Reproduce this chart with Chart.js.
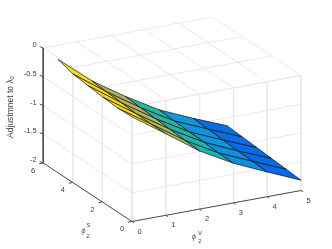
<!DOCTYPE html>
<html><head><meta charset="utf-8">
<style>html,body{margin:0;padding:0;background:#fff}canvas{display:block}</style>
<script src="https://cdn.jsdelivr.net/npm/chart.js@4"></script>
</head><body><canvas id="c" width="332" height="249"></canvas>
<script>
const phiV = [0,1,2,3,4,5];
const phiS = [0,1,2,3,4,5];
// rows: phiS = 0..5, columns: phiV = 0..5
const z_S0 = [-0.18,-0.58,-0.99,-1.31,-1.57,-1.82];
const z_S1 = [-0.19,-0.58,-0.97,-1.30,-1.55,-1.80];
const z_S2 = [-0.17,-0.57,-0.95,-1.28,-1.54,-1.78];
const z_S3 = [-0.14,-0.55,-0.93,-1.27,-1.52,-1.76];
const z_S4 = [-0.11,-0.53,-0.91,-1.25,-1.50,-1.74];
const z_S5 = [-0.03,-0.51,-0.89,-1.23,-1.485,-1.72];
const surface = [z_S0,z_S1,z_S2,z_S3,z_S4,z_S5];
const vTicks = [0,1,2,3,4,5];
const sTicks = [0,2,4,6];
const zTicks = [0,-0.5,-1,-1.5,-2];
const zLabels = ['0','-0.5','-1','-1.5','-2'];

const V_MAX=5,S_MAX=6,Z_MIN=-2,Z_MAX=0;
function P(v,s,z){return {x:132+33.8*v-14.8*s, y:221.5-6.2*v-9.75*s-57.5*(z+2)};}

const stops=[[0,8,100,235],[0.14,8,104,232],[0.19,6,112,228],[0.29,12,146,222],[0.33,15,155,218],[0.46,30,178,180],[0.52,40,183,160],[0.62,110,192,120],[0.69,168,188,96],[0.73,184,172,96],[0.8,232,190,55],[0.86,250,215,30],[1,250,228,25]];
function col(z){const t=Math.max(0,Math.min(1,(z+1.82)/1.79));
 for(let i=1;i<stops.length;i++){if(t<=stops[i][0]){const a=stops[i-1],b=stops[i],f=(t-a[0])/(b[0]-a[0]);
  return `rgb(${[1,2,3].map(k=>Math.round(a[k]+(b[k]-a[k])*f)).join(',')})`;}}
 return 'rgb(250,228,25)';}

const ds=[];
function line(pts,color,w){ds.push({data:pts,showLine:true,pointRadius:0,borderColor:color,borderWidth:w,fill:false,tension:0,clip:false});}
const GRID='#e8e8e8',AXIS='#4d4d4d';
// top plane
vTicks.forEach(v=>line([P(v,0,0),P(v,S_MAX,0)],GRID,1));
sTicks.forEach(s=>line([P(0,s,0),P(V_MAX,s,0)],GRID,1));
// wall phiS=0
vTicks.forEach(v=>line([P(v,0,Z_MAX),P(v,0,Z_MIN)],GRID,1));
zTicks.forEach(z=>line([P(0,0,z),P(V_MAX,0,z)],GRID,1));
// wall phiV=0
sTicks.forEach(s=>line([P(0,s,Z_MAX),P(0,s,Z_MIN)],GRID,1));
zTicks.forEach(z=>line([P(0,0,z),P(0,S_MAX,z)],GRID,1));
// axes
line([P(0,S_MAX,Z_MAX),P(0,S_MAX,Z_MIN)],AXIS,1);
line([P(0,S_MAX,Z_MIN),P(0,0,Z_MIN)],AXIS,1);
line([P(0,0,Z_MIN),P(V_MAX,0,Z_MIN)],AXIS,1);
zTicks.forEach(z=>{const a=P(0,S_MAX,z);line([a,{x:a.x-3.5,y:a.y-1.5}],AXIS,1);});
sTicks.forEach(s=>{const a=P(0,s,Z_MIN);line([a,{x:a.x-4,y:a.y+0.7}],AXIS,1);});
vTicks.forEach(v=>{const a=P(v,0,Z_MIN);line([a,{x:a.x+2,y:a.y+1.5}],AXIS,1);});
// surface, far quads first
const quads=[];
for(let j=0;j<phiS.length-1;j++)for(let i=0;i<phiV.length-1;i++)quads.push([i,j]);
quads.sort((a,b)=>(a[0]+a[1])-(b[0]+b[1]));
quads.forEach(([i,j])=>{
 const p=[[i,j],[i+1,j],[i+1,j+1],[i,j+1],[i,j]].map(([a,b])=>P(phiV[a],phiS[b],surface[b][a]));
 ds.push({data:p,showLine:true,pointRadius:0,borderColor:'#111',borderWidth:0.7,backgroundColor:col(surface[j][i]),fill:'shape',tension:0,clip:false});
});

const labels={id:'labels',afterDraw(c){
 const g=c.ctx,sx=c.scales.x,sy=c.scales.y;
 const T=(t,x,y,o={})=>{g.save();g.translate(sx.getPixelForValue(x),sy.getPixelForValue(y));g.rotate(o.r||0);
  g.font=(o.it?'italic ':'')+(o.s||7.5)+'px "Liberation Sans"';g.fillStyle=o.c||'#404040';g.textAlign=o.a||'center';g.textBaseline='middle';g.fillText(t,0,0);g.restore();};
 zTicks.forEach((z,i)=>{const a=P(0,S_MAX,z);T(zLabels[i],a.x-6.5,a.y-3,{a:'right'});});
 sTicks.forEach(s=>{const a=P(0,s,Z_MIN);T(String(s),a.x-10,a.y+7.5);});
 vTicks.forEach(v=>{const a=P(v,0,Z_MIN);T(String(v),a.x+7.5,a.y+10);});
 T('Adjustmnet to \u03BB\u2082',11,107,{r:-Math.PI/2,s:8.5});
 T('\u03D5',83.5,231,{s:8,it:true,c:'#666'});T('S',88.5,225,{s:6});T('2',88,236.5,{s:6});
 T('\u03D5',194,237,{s:8,it:true,c:'#666'});T('V',200,233,{s:6});T('2',200,241,{s:6});
}};
new Chart(document.getElementById('c'),{type:'scatter',data:{datasets:ds.reverse()},
 options:{responsive:false,animation:false,layout:{padding:0},
 plugins:{legend:{display:false},tooltip:{enabled:false}},
 scales:{x:{type:'linear',min:0,max:332,display:false},y:{type:'linear',min:0,max:249,reverse:true,display:false}}},
 plugins:[labels]});
</script></body></html>
